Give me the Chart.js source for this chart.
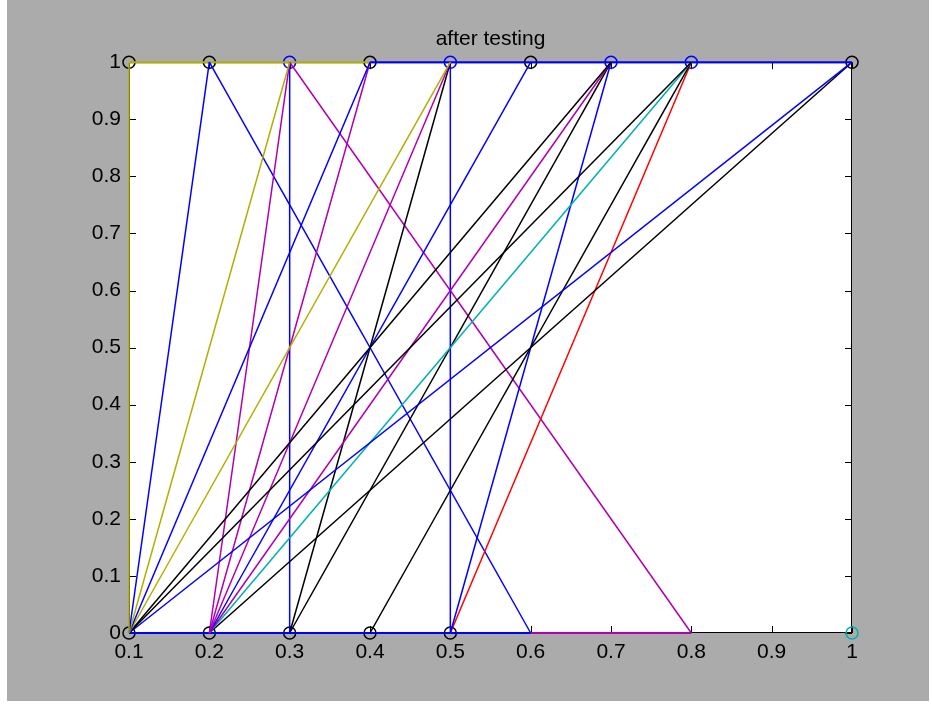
<!DOCTYPE html>
<html>
<head>
<meta charset="utf-8">
<script src="https://cdn.jsdelivr.net/npm/chart.js@4.4.1/dist/chart.umd.min.js"></script>
<style>
  html, body { margin: 0; padding: 0; background: #fff; }
</style>
</head>
<body>
<canvas id="chart" width="932" height="704"></canvas>
<script>
// axis ticks
const xTicks = [0.1, 0.2, 0.3, 0.4, 0.5, 0.6, 0.7, 0.8, 0.9, 1];
const yTicks = [0, 0.1, 0.2, 0.3, 0.4, 0.5, 0.6, 0.7, 0.8, 0.9, 1];

// edges: from (bottomX, 0) to (topX, 1), matlab colour letters
const edgeBottomX = [0.1, 0.1, 0.1, 0.1, 0.1, 0.1, 0.1, 0.1,
                     0.2, 0.2, 0.2, 0.2, 0.2, 0.2, 0.2,
                     0.3, 0.3, 0.3, 0.4, 0.5, 0.5, 0.5, 0.6, 0.8];
const edgeTopX    = [0.1, 0.2, 0.3, 0.4, 0.5, 0.7, 0.8, 1,
                     0.3, 0.4, 0.5, 0.6, 0.7, 0.8, 1,
                     0.3, 0.5, 0.7, 0.8, 0.5, 0.7, 0.8, 0.2, 0.3];
const edgeColor   = ["y", "b", "y", "b", "y", "k", "k", "b",
                     "m", "m", "m", "b", "m", "c", "k",
                     "b", "k", "k", "k", "b", "b", "r", "b", "m"];

// horizontal edges along the two rows
const rowY      = [1, 1, 0, 0];
const rowFromX  = [0.1, 0.4, 0.1, 0.6];
const rowToX    = [0.4, 1, 0.6, 0.8];
const rowColor  = ["y", "b", "b", "m"];

// node circles
const topNodeX      = [0.1, 0.2, 0.3, 0.4, 0.5, 0.6, 0.7, 0.8, 1];
const topNodeColor  = ["k", "k", "b", "k", "b", "k", "b", "b", "k"];
const bottomNodeX     = [0.1, 0.2, 0.3, 0.4, 0.5, 1];
const bottomNodeColor = ["k", "k", "k", "k", "k", "c"];

const COLORS = { b: "#0000ff", k: "#000000", y: "#b0b000", m: "#b000b0", c: "#00b0b0", r: "#ff0000" };
const FONT = "'Liberation Sans', Arial, sans-serif";

const datasets = [];
edgeBottomX.forEach((a, i) => {
  datasets.push({
    data: [{ x: a, y: 0 }, { x: edgeTopX[i], y: 1 }],
    showLine: true,
    borderColor: COLORS[edgeColor[i]],
    borderWidth: 1.5,
    pointRadius: 0,
    clip: false,
  });
});
rowY.forEach((y, i) => {
  datasets.push({
    data: [{ x: rowFromX[i], y: y }, { x: rowToX[i], y: y }],
    showLine: true,
    borderColor: COLORS[rowColor[i]],
    borderWidth: 2,
    pointRadius: 0,
    clip: false,
  });
});
datasets.push({
  data: topNodeX.map((x) => ({ x: x, y: 1 })),
  showLine: false,
  pointRadius: 6,
  pointBorderWidth: 1.5,
  pointBorderColor: topNodeColor.map((c) => COLORS[c]),
  pointBackgroundColor: "rgba(0,0,0,0)",
  clip: false,
});
datasets.push({
  data: bottomNodeX.map((x) => ({ x: x, y: 0 })),
  showLine: false,
  pointRadius: 6,
  pointBorderWidth: 1.5,
  pointBorderColor: bottomNodeColor.map((c) => COLORS[c]),
  pointBackgroundColor: "rgba(0,0,0,0)",
  clip: false,
});

const fmt = (v) => String(+Number(v).toFixed(1));

// grey figure, white axes, box and inward ticks like matlab
const frame = {
  id: "frame",
  beforeDraw(chart) {
    const ctx = chart.ctx;
    const a = chart.chartArea;
    ctx.save();
    ctx.fillStyle = "#ffffff";
    ctx.fillRect(0, 0, chart.width, chart.height);
    ctx.fillStyle = "#ababab";
    ctx.fillRect(7, 0, 922, 701);
    ctx.fillStyle = "#ffffff";
    ctx.fillRect(a.left, a.top, a.right - a.left, a.bottom - a.top);
    ctx.restore();
  },
  beforeDatasetsDraw(chart) {
    const ctx = chart.ctx;
    const a = chart.chartArea;
    const xs = chart.scales.x;
    const ys = chart.scales.y;
    const len = 7;
    ctx.save();
    ctx.strokeStyle = "#000";
    ctx.lineWidth = 1;
    ctx.strokeRect(a.left + 0.5, a.top + 0.5, a.right - a.left - 1, a.bottom - a.top - 1);
    ctx.beginPath();
    xTicks.forEach((v) => {
      const px = Math.round(xs.getPixelForValue(v)) + 0.5;
      ctx.moveTo(px, a.bottom); ctx.lineTo(px, a.bottom - len);
      ctx.moveTo(px, a.top); ctx.lineTo(px, a.top + len);
    });
    yTicks.forEach((v) => {
      const py = Math.round(ys.getPixelForValue(v)) + 0.5;
      ctx.moveTo(a.left, py); ctx.lineTo(a.left + len, py);
      ctx.moveTo(a.right, py); ctx.lineTo(a.right - len, py);
    });
    ctx.stroke();
    ctx.restore();
  },
};

new Chart(document.getElementById("chart").getContext("2d"), {
  type: "scatter",
  data: { datasets: datasets },
  plugins: [frame],
  options: {
    responsive: false,
    animation: false,
    layout: { padding: { left: 0, right: 80, top: 0, bottom: 0 } },
    scales: {
      x: {
        type: "linear",
        min: 0.1,
        max: 1,
        afterBuildTicks: (s) => { s.ticks = xTicks.map((v) => ({ value: v })); },
        afterFit: (s) => { s.height = 71; },
        grid: { display: false, drawTicks: false },
        border: { display: false },
        ticks: {
          callback: fmt,
          color: "#000",
          padding: 7,
          maxRotation: 0,
          autoSkip: false,
          font: { family: FONT, size: 21 },
        },
      },
      y: {
        type: "linear",
        min: 0,
        max: 1,
        afterBuildTicks: (s) => { s.ticks = yTicks.map((v) => ({ value: v })); },
        afterFit: (s) => { s.width = 129; },
        grid: { display: false, drawTicks: false },
        border: { display: false },
        ticks: {
          callback: fmt,
          color: "#000",
          padding: 8,
          autoSkip: false,
          font: { family: FONT, size: 21 },
        },
      },
    },
    plugins: {
      legend: { display: false },
      tooltip: { enabled: false },
      title: {
        display: true,
        text: "after testing",
        fullSize: false,
        color: "#000",
        font: { family: FONT, size: 21, weight: "normal" },
        padding: { top: 27, bottom: 10 },
      },
    },
  },
});
</script>
</body>
</html>
